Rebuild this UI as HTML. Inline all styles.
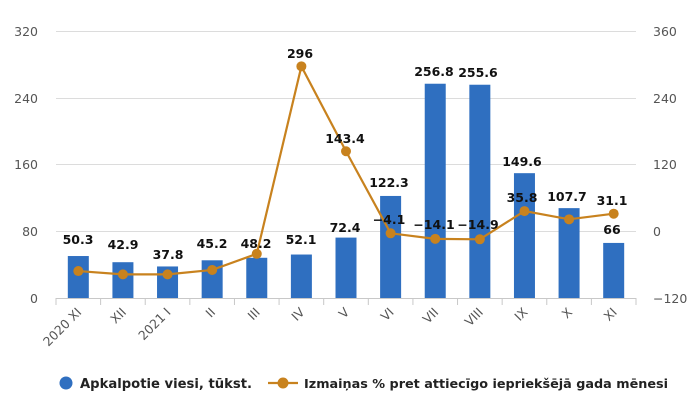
<!DOCTYPE html>
<html><head><meta charset="utf-8"><style>
body{margin:0;background:#fff}
svg text{font-family:"DejaVu Sans","Liberation Sans",sans-serif}
</style></head><body>
<svg width="700" height="404" xmlns="http://www.w3.org/2000/svg">
<g stroke="#dcdcdc" stroke-width="1">
<line x1="56" x2="636" y1="31.5" y2="31.5"/>
<line x1="56" x2="636" y1="98.5" y2="98.5"/>
<line x1="56" x2="636" y1="164.5" y2="164.5"/>
<line x1="56" x2="636" y1="231.5" y2="231.5"/>
</g>
<g fill="#555" font-size="12.5" text-anchor="end">
<text x="38" y="36">320</text><text x="38" y="103">240</text><text x="38" y="169">160</text><text x="38" y="236">80</text><text x="38" y="303">0</text>
</g>
<g fill="#555" font-size="12.5" text-anchor="start">
<text x="653" y="36">360</text><text x="653" y="103">240</text><text x="653" y="169">120</text><text x="653" y="236">0</text><text x="653" y="303">−120</text>
</g>
<g fill="#2f6fc0" id="bars"></g>
<line x1="56" x2="636" y1="298.5" y2="298.5" stroke="#c8c8c8"/>
<g id="ticks" stroke="#c8c8c8"></g>
<polyline id="line" fill="none" stroke="#c8821e" stroke-width="2.2"/>
<g id="dots" fill="#c8821e"></g>
<g id="xl" fill="#555" font-size="12.5"></g>
<g font-size="12.5" font-weight="bold" fill="#111" text-anchor="middle">
<text x="78" y="244">50.3</text><text x="123" y="249">42.9</text><text x="168" y="259">37.8</text><text x="212" y="248">45.2</text><text x="256" y="248">48.2</text><text x="301" y="244">52.1</text><text x="345" y="232">72.4</text>
<text x="300" y="58">296</text><text x="345" y="143">143.4</text>
<text x="389" y="187">122.3</text><text x="434" y="76">256.8</text><text x="478" y="77">255.6</text><text x="522" y="166">149.6</text><text x="567" y="201">107.7</text>
<text x="389" y="224">−4.1</text><text x="434" y="229">−14.1</text><text x="478" y="229">−14.9</text><text x="522" y="202">35.8</text><text x="612" y="205">31.1</text><text x="612" y="234">66</text>
</g>
<circle cx="66" cy="383" r="6.5" fill="#2f6fc0"/>
<text x="80" y="388" font-size="13" font-weight="bold" fill="#222" textLength="172" lengthAdjust="spacingAndGlyphs">Apkalpotie viesi, tūkst.</text>
<line x1="268" x2="298" y1="383" y2="383" stroke="#c8821e" stroke-width="2.2"/>
<circle cx="283" cy="383" r="5.5" fill="#c8821e"/>
<text x="304" y="388" font-size="12.5" font-weight="bold" fill="#222" textLength="364" lengthAdjust="spacingAndGlyphs">Izmaiņas % pret attiecīgo iepriekšējā gada mēnesi</text>
<script>
var bars=[50.3,42.9,37.8,45.2,48.2,52.1,72.4,122.3,256.8,255.6,149.6,107.7,66];
var pct=[-72,-78,-78,-70,-41,296,143.4,-4.1,-14.1,-14.9,35.8,21,31.1];
var labs=["2020 XI","XII","2021 I","II","III","IV","V","VI","VII","VIII","IX","X","XI"];
var ns="http://www.w3.org/2000/svg",w=580/13,pts=[];
function el(t,a,p){var e=document.createElementNS(ns,t);for(var k in a)e.setAttribute(k,a[k]);document.getElementById(p).appendChild(e);return e;}
for(var i=0;i<13;i++){var cx=56+w*(i+0.5),h=bars[i]*0.8344;
el("rect",{x:cx-10.5,y:298-h,width:21,height:h},"bars");
el("line",{x1:56+w*i,x2:56+w*i,y1:298,y2:305},"ticks");
var y=231-pct[i]*0.5563;pts.push(cx+","+y);
el("circle",{cx:cx,cy:y,r:5},"dots");
var t=el("text",{x:cx+4,y:313,"text-anchor":"end",transform:"rotate(-45 "+(cx+4)+" 313)"},"xl");t.textContent=labs[i];}
el("line",{x1:636,x2:636,y1:298,y2:305},"ticks");
document.getElementById("line").setAttribute("points",pts.join(" "));
</script>
</svg>
</body></html>
